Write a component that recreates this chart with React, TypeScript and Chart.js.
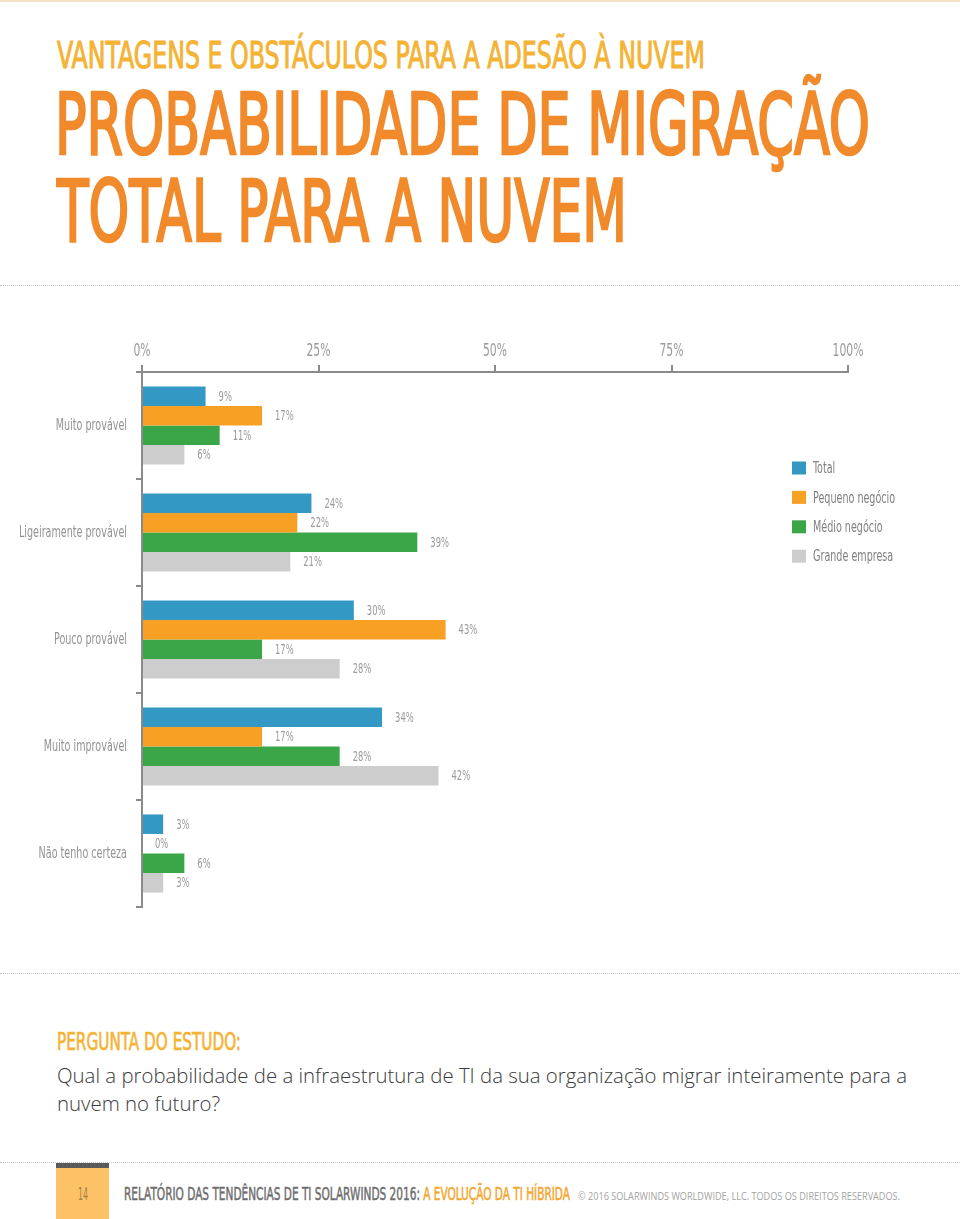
import React, { useEffect, useLayoutEffect, useRef } from 'react';
import { Chart, registerables } from 'chart.js';

Chart.register(...registerables);

// ---------- DATA ----------
const categories = ['Muito provável', 'Ligeiramente provável', 'Pouco provável', 'Muito improvável', 'Não tenho certeza'];
const seriesNames = ['Total', 'Pequeno negócio', 'Médio negócio', 'Grande empresa'];
const totalValues = [9, 24, 30, 34, 3];
const pequenoValues = [17, 22, 43, 17, 0];
const medioValues = [11, 39, 17, 28, 6];
const grandeValues = [6, 21, 28, 42, 3];
const seriesColors = ['#3399C4', '#F8A024', '#3AA648', '#CDCDCD'];
const axisTicks = [0, 25, 50, 75, 100];

const CHART_FONT = "'Liberation Sans Narrow', 'DejaVu Sans Condensed', 'Arial Narrow', 'Liberation Sans', sans-serif";

let condenseCache: number | null = null;
function getCondense(ctx: CanvasRenderingContext2D): number {
  if (condenseCache !== null) return condenseCache;
  ctx.save();
  ctx.font = `normal 16px ${CHART_FONT}`;
  const w = ctx.measureText('Ligeiramente provável').width;
  ctx.restore();
  condenseCache = w > 0 ? 108 / w : 1;
  return condenseCache;
}

function patchScale(chart: any, scale: any) {
  if (!scale || scale._condensePatched) return;
  const orig = scale.drawLabels.bind(scale);
  scale.drawLabels = function (area: any) {
    const ctx = chart.ctx as any;
    const k = getCondense(ctx);
    const origFill = CanvasRenderingContext2D.prototype.fillText;
    ctx.fillText = function (text: string, x: number, y: number, maxWidth?: number) {
      this.save();
      this.translate(x, y);
      this.scale(k, 1);
      if (maxWidth !== undefined) origFill.call(this, text, 0, 0, maxWidth / k);
      else origFill.call(this, text, 0, 0);
      this.restore();
    };
    try {
      orig(area);
    } finally {
      delete ctx.fillText;
    }
  };
  scale._condensePatched = true;
}

const condensePlugin = {
  id: 'condenseLabels',
  beforeDraw(chart: any) {
    patchScale(chart, chart.scales.x);
    patchScale(chart, chart.scales.y);
  },
};

const valueLabelPlugin = {
  id: 'valueLabels',
  afterDatasetsDraw(chart: any) {
    const ctx = chart.ctx as CanvasRenderingContext2D;
    const k = getCondense(ctx);
    ctx.save();
    ctx.font = `normal 14px ${CHART_FONT}`;
    ctx.fillStyle = '#9a9a9a';
    ctx.textBaseline = 'middle';
    ctx.textAlign = 'left';
    chart.data.datasets.forEach((ds: any, di: number) => {
      const meta = chart.getDatasetMeta(di);
      meta.data.forEach((el: any, i: number) => {
        const v = ds.data[i];
        ctx.save();
        ctx.translate(el.x + 13, el.y + 1);
        ctx.scale(k, 1);
        ctx.fillText(`${v}%`, 0, 0);
        ctx.restore();
      });
    });
    ctx.restore();
  },
};

const legendPlugin = {
  id: 'sideLegend',
  afterDraw(chart: any) {
    const ctx = chart.ctx as CanvasRenderingContext2D;
    const area = chart.chartArea;
    const k = getCondense(ctx);
    const lx = area.right - 56;
    const ly0 = area.top + 96;
    const step = 29.4;
    ctx.save();
    ctx.font = `normal 16px ${CHART_FONT}`;
    ctx.textBaseline = 'middle';
    ctx.textAlign = 'left';
    chart.data.datasets.forEach((ds: any, i: number) => {
      const cy = ly0 + i * step;
      ctx.fillStyle = ds.backgroundColor;
      ctx.fillRect(lx, cy - 6.5, 14, 13);
      ctx.fillStyle = '#808080';
      ctx.save();
      ctx.translate(lx + 21, cy + 1);
      ctx.scale(k, 1);
      ctx.fillText(ds.label, 0, 0);
      ctx.restore();
    });
    ctx.restore();
  },
};

function BarChart() {
  const ref = useRef<HTMLCanvasElement>(null);
  useEffect(() => {
    if (!ref.current) return;
    const seriesValues = [totalValues, pequenoValues, medioValues, grandeValues];
    const chart = new Chart(ref.current, {
      type: 'bar',
      data: {
        labels: categories,
        datasets: seriesNames.map((name, i) => ({
          label: name,
          data: seriesValues[i],
          backgroundColor: seriesColors[i],
          borderWidth: 0,
          barPercentage: 1,
          categoryPercentage: 0.73,
        })),
      },
      options: {
        animation: false,
        responsive: false,
        maintainAspectRatio: false,
        indexAxis: 'y',
        layout: { padding: { left: 0, right: 112, top: 0, bottom: 23 } },
        plugins: { legend: { display: false }, tooltip: { enabled: false } },
        scales: {
          x: {
            position: 'top',
            min: 0,
            max: 100,
            afterBuildTicks: (scale: any) => {
              scale.ticks = axisTicks.map((v) => ({ value: v }));
            },
            ticks: {
              callback: (v: any) => `${v}%`,
              color: '#9a9a9a',
              font: { family: CHART_FONT, size: 18 },
              padding: 3,
              maxRotation: 0,
            },
            grid: { drawOnChartArea: false, drawTicks: true, tickLength: 7, color: '#8a8a8a', lineWidth: 2 },
            border: { display: true, color: '#8a8a8a', width: 2, z: 1 },
            afterFit: (scale: any) => {
              scale.height = 82;
            },
          },
          y: {
            ticks: {
              color: '#939393',
              font: { family: CHART_FONT, size: 16 },
              padding: 9,
            },
            grid: { drawOnChartArea: false, drawTicks: true, tickLength: 6, color: '#8a8a8a', lineWidth: 2, offset: true },
            border: { display: true, color: '#8a8a8a', width: 2, z: 1 },
            afterFit: (scale: any) => {
              scale.width = 142;
            },
          },
        },
      } as any,
      plugins: [condensePlugin, valueLabelPlugin, legendPlugin],
    });
    return () => chart.destroy();
  }, []);
  return (
    <canvas
      ref={ref}
      width={960}
      height={640}
      style={{ position: 'absolute', left: 0, top: 290, width: 960, height: 640 }}
    />
  );
}

function FitText(props: { left: number; top: number; width: number; style?: React.CSSProperties; children: React.ReactNode }) {
  const ref = useRef<HTMLSpanElement>(null);
  useLayoutEffect(() => {
    const el = ref.current;
    if (!el) return;
    el.style.transform = 'none';
    const w = el.getBoundingClientRect().width;
    if (w > 0) el.style.transform = `scaleX(${props.width / w})`;
  }, [props.width]);
  return (
    <span
      ref={ref}
      style={{
        position: 'absolute',
        left: props.left,
        top: props.top,
        whiteSpace: 'nowrap',
        transformOrigin: '0 0',
        lineHeight: 1,
        display: 'inline-block',
        ...props.style,
      }}
    >
      {props.children}
    </span>
  );
}

const TITLE_FONT = CHART_FONT;
const BODY_FONT = "'Open Sans', 'Noto Sans', sans-serif";

function Dotted({ top }: { top: number }) {
  return <div style={{ position: 'absolute', left: 0, top, width: 960, height: 0, borderTop: '1px dotted #c4c4c4' }} />;
}

export default function App() {
  return (
    <div style={{ position: 'absolute', left: 0, top: 0, width: 960, height: 1219, overflow: 'hidden', background: '#ffffff' }}>
      <div style={{ position: 'absolute', left: 0, top: 0, width: 960, height: 2, background: '#F3E3C4' }} />
      <FitText left={57} top={37} width={648} style={{ fontFamily: TITLE_FONT, fontSize: 37, color: '#F4B335', WebkitTextStroke: '1px #F4B335' } as any}>
        VANTAGENS E OBSTÁCULOS PARA A ADESÃO À NUVEM
      </FitText>
      <FitText left={55} top={82} width={815} style={{ fontFamily: TITLE_FONT, fontSize: 85, color: '#F18A2B', WebkitTextStroke: '2.5px #F18A2B' } as any}>
        PROBABILIDADE DE MIGRAÇÃO
      </FitText>
      <FitText left={57} top={169} width={570} style={{ fontFamily: TITLE_FONT, fontSize: 85, color: '#F18A2B', WebkitTextStroke: '2.5px #F18A2B' } as any}>
        TOTAL PARA A NUVEM
      </FitText>
      <Dotted top={285} />

      <BarChart />

      <Dotted top={973} />
      <FitText left={57} top={1029} width={184} style={{ fontFamily: TITLE_FONT, fontSize: 25, color: '#F4B335', WebkitTextStroke: '0.7px #F4B335' } as any}>
        PERGUNTA DO ESTUDO:
      </FitText>
      <FitText left={57} top={1066} width={850} style={{ fontFamily: BODY_FONT, fontSize: 20, fontWeight: 300, color: '#3a3a3a' }}>
        Qual a probabilidade de a infraestrutura de TI da sua organização migrar inteiramente para a
      </FitText>
      <FitText left={57} top={1094} width={163} style={{ fontFamily: BODY_FONT, fontSize: 20, fontWeight: 300, color: '#3a3a3a' }}>
        nuvem no futuro?
      </FitText>

      <Dotted top={1162} />
      <div style={{ position: 'absolute', left: 56, top: 1163, width: 53, height: 5, background: '#5a5a5a' }} />
      <div style={{ position: 'absolute', left: 56, top: 1168, width: 53, height: 51, background: '#FDC166' }} />
      <FitText left={78} top={1185} width={10} style={{ fontFamily: TITLE_FONT, fontSize: 18, color: '#A3824E' }}>
        14
      </FitText>
      <FitText left={124} top={1185} width={446} style={{ fontFamily: TITLE_FONT, fontSize: 18 }}>
        <span style={{ color: '#6e6e6e', WebkitTextStroke: '0.5px #6e6e6e' } as any}>RELATÓRIO DAS TENDÊNCIAS DE TI SOLARWINDS 2016: </span>
        <span style={{ color: '#F4A52B', WebkitTextStroke: '0.5px #F4A52B' } as any}>A EVOLUÇÃO DA TI HÍBRIDA</span>
      </FitText>
      <FitText left={578} top={1190} width={322} style={{ fontFamily: BODY_FONT, fontSize: 11, color: '#a3a3a3' }}>
        © 2016 SOLARWINDS WORLDWIDE, LLC. TODOS OS DIREITOS RESERVADOS.
      </FitText>
    </div>
  );
}
